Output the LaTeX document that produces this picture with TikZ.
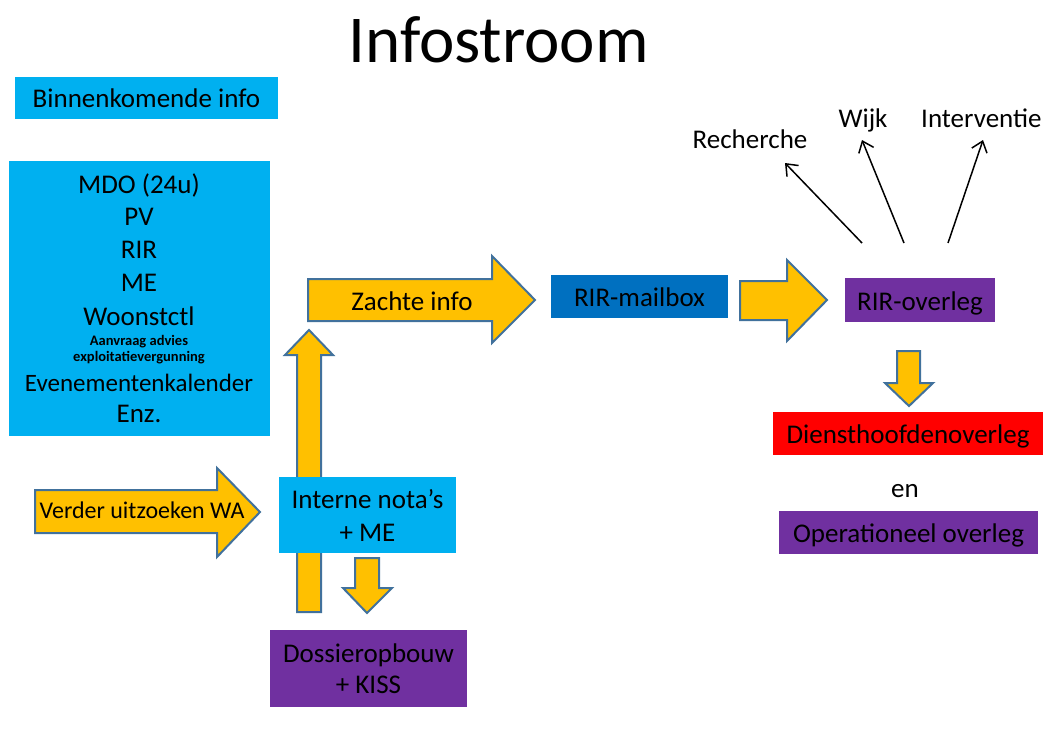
\documentclass[tikz,border=0pt]{standalone}
\usepackage{fontspec}
\setmainfont{Carlito}
\usetikzlibrary{arrows.meta}
\definecolor{cyanbox}{HTML}{00B0F0}
\definecolor{bluebox}{HTML}{0070C0}
\definecolor{purplebox}{HTML}{7030A0}
\definecolor{redbox}{HTML}{FF0000}
\definecolor{arrowfill}{HTML}{FFC000}
\definecolor{arrowline}{HTML}{41719C}
\begin{document}
\begin{tikzpicture}[x=1pt,y=-1pt,
 box/.style={inner sep=0pt, outer sep=0pt, draw=none},
 txt/.style={inner sep=0pt, anchor=base, font=\fontsize{27pt}{32pt}\selectfont},
 txtw/.style={inner sep=0pt, anchor=base west, font=\fontsize{27pt}{32pt}\selectfont},
 small/.style={inner sep=0pt, anchor=base, font=\fontsize{14.5pt}{17pt}\selectfont\bfseries},
 blockarrow/.style={fill=arrowfill, draw=arrowline, line width=2pt, line join=miter},
 thinarrow/.style={draw=black, line width=1.5pt, -{Straight Barb[length=10pt,width=16pt]}}
]
\fill[white] (0,0) rectangle (1043,747);
\useasboundingbox (0,0) rectangle (1043,747);

% title
\node[inner sep=0pt, anchor=base, font=\fontsize{67pt}{72pt}\selectfont] (title) at (498.5,62) {Infostroom};

% block arrows (drawn first, boxes on top)
\draw[blockarrow] (308,279) -- (492,279) -- (492,256) -- (535,300) -- (492,343) -- (492,321) -- (308,321) -- cycle;
\draw[blockarrow] (740,281) -- (787,281) -- (787,260) -- (827,300) -- (787,341) -- (787,320) -- (740,320) -- cycle;
\draw[blockarrow] (35,490) -- (217,490) -- (217,468) -- (260,512) -- (217,557) -- (217,533) -- (35,533) -- cycle;
\draw[blockarrow] (297,612) -- (297,355) -- (285,355) -- (309,330) -- (333,355) -- (321,355) -- (321,612) -- cycle;
\draw[blockarrow] (355,558) -- (379,558) -- (379,588) -- (392,588) -- (367,613) -- (343,588) -- (355,588) -- cycle;
\draw[blockarrow] (897,351) -- (920,351) -- (920,383) -- (933,383) -- (909,406) -- (885,383) -- (897,383) -- cycle;

% boxes
\node[box, fill=cyanbox, minimum width=263pt, minimum height=42pt] (binnen) at (146.5,98) {};
\node[box, fill=cyanbox, minimum width=261pt, minimum height=275pt] (bron) at (139.5,298.5) {};
\node[box, fill=bluebox, minimum width=177pt, minimum height=43pt] (mailbox) at (639.5,296.5) {};
\node[box, fill=purplebox, minimum width=150pt, minimum height=44pt] (rirover) at (920,300) {};
\node[box, fill=redbox, minimum width=270pt, minimum height=43pt] (dienst) at (908,433.5) {};
\node[box, fill=purplebox, minimum width=259pt, minimum height=43pt] (oper) at (908.5,532.5) {};
\node[box, fill=cyanbox, minimum width=177pt, minimum height=76pt] (interne) at (367.5,515) {};
\node[box, fill=purplebox, minimum width=197pt, minimum height=77pt] (dossier) at (368.5,668.5) {};

% texts
\node[txt] (tbinnen) at (146.5,107) {Binnenkomende info};
\node[txt] (l1) at (139,193) {MDO (24u)};
\node[txt] (l2) at (139,225) {PV};
\node[txt] (l3) at (139,258) {RIR};
\node[txt] (l4) at (139,291) {ME};
\node[txt] (l5) at (139,325) {Woonstctl};
\node[small] (l6) at (139,345) {Aanvraag advies};
\node[small] (l7) at (139,361) {exploitatievergunning};
\node[txt, font=\fontsize{25pt}{30pt}\selectfont] (l8) at (139,391) {Evenementenkalender};
\node[txt] (l9) at (139,422) {Enz.};

\node[txt] (tzachte) at (412,310) {Zachte info};
\node[txt] (tmailbox) at (639.5,306) {RIR-mailbox};
\node[txt] (trirover) at (920,310) {RIR-overleg};
\node[txt] (tdienst) at (908,443) {Diensthoofdenoverleg};
\node[txt] (ten) at (905,497) {en};
\node[txt] (toper) at (908.5,542) {Operationeel overleg};
\node[txt, font=\fontsize{24pt}{29pt}\selectfont] (tverder) at (142,518) {Verder uitzoeken WA};
\node[txt] (tinterne1) at (367.5,508) {Interne nota’s};
\node[txt] (tinterne2) at (367.5,541) {+ ME};
\node[txt] (tdossier1) at (368.5,662) {Dossieropbouw};
\node[txt] (tdossier2) at (368.5,693) {+ KISS};

\node[txt] (trech) at (750,148) {Recherche};
\node[txt] (twijk) at (863,127) {Wijk};
\node[txtw] (tinterv) at (921,127) {Interventie};

% thin arrows
\coordinate (s1) at (862,243);
\coordinate (s2) at (904,243);
\coordinate (s3) at (948,243);
\coordinate (e1) at (785,163);
\coordinate (e2) at (862,140);
\coordinate (e3) at (983,140);
\draw[thinarrow] (s1) -- (e1);
\draw[thinarrow] (s2) -- (e2);
\draw[thinarrow] (s3) -- (e3);
\end{tikzpicture}
\end{document}
